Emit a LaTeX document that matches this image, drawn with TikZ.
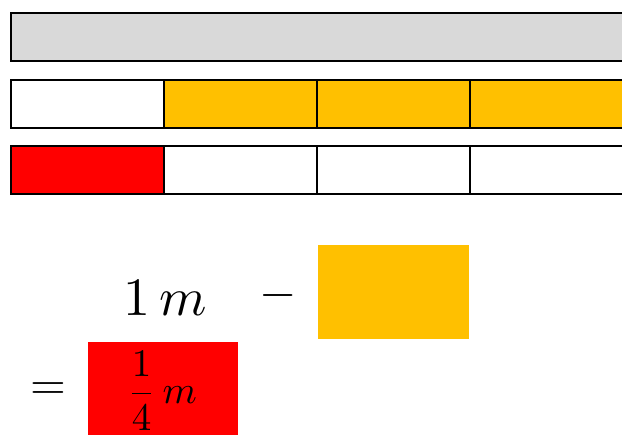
\documentclass[tikz,border=0pt]{standalone}
\usepackage{graphicx}
\usepackage{amsmath}
\definecolor{barGray}{HTML}{D9D9D9}
\definecolor{partOrange}{HTML}{FFC000}
\definecolor{partRed}{HTML}{FF0000}
\tikzset{
  cell/.style={draw, line width=2.2pt, anchor=north west, inner sep=0pt,
    minimum width=153pt, minimum height=48pt},
  patch/.style={anchor=north west, inner sep=0pt}
}
\begin{document}
\begin{tikzpicture}[x=1pt, y=-1pt]
  \clip (0,0) rectangle (622,435);
  \useasboundingbox (0,0) rectangle (622,435);

  % whole metre
  \node[cell, fill=barGray, minimum width=640pt] (whole) at (10,12) {};

  % three quarters taken away
  \foreach \i/\c in {0/white, 1/partOrange, 2/partOrange, 3/partOrange}
    \node[cell, fill=\c] (taken\i) at (10+153*\i,79) {};

  % one quarter left
  \foreach \i/\c in {0/partRed, 1/white, 2/white, 3/white}
    \node[cell, fill=\c] (left\i) at (10+153*\i,145) {};

  % equation
  \node[anchor=base] (metre) at (165,316) {\scalebox{5.4}{$1\,m$}};
  \node[anchor=base] (minus) at (278,308) {\scalebox{4.8}{$-$}};
  \node[patch, fill=partOrange, minimum width=151pt, minimum height=94pt] (box) at (318,245) {};
  \node[anchor=base] (equals) at (48,400) {\scalebox{4.6}{$=$}};
  \node[patch, fill=partRed, minimum width=150pt, minimum height=93pt] (rest) at (88,342) {};
  \node (quarter) at (162,391) {\scalebox{3.9}{$\dfrac{1}{4}\,m$}};
\end{tikzpicture}
\end{document}
